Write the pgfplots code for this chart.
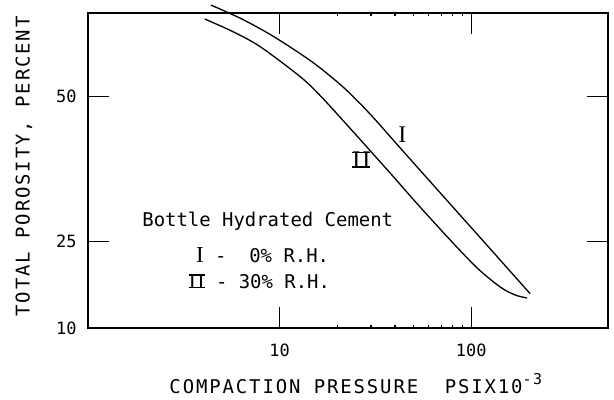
\documentclass[border=0pt]{standalone}
\usepackage{pgfplots}
\pgfplotsset{compat=1.18}
\usepackage{fontspec}
\setmainfont{DejaVu Sans Mono}
\newfontfamily\rom{Liberation Serif}
\newfontfamily\lbl{DejaVu Sans Mono}[LetterSpace=10]
\newcommand\RII{{\rom\setbox0\hbox{I\kern0.08em I}\rlap{\rule{\wd0}{1.3bp}}\rlap{\rule[\dimexpr\ht0-1.3bp\relax]{\wd0}{1.3bp}}\box0}}
\begin{document}
\begin{tikzpicture}
\useasboundingbox (0,0) rectangle (614bp,400bp);
\begin{axis}[
  at={(88bp,72bp)}, anchor=south west,
  scale only axis, width=520bp, height=315bp,
  xmode=log, xmin=1, xmax=517, ymin=10, ymax=64.5,
  xtick={10,100}, xticklabels={10,100},
  ytick={10,25,50}, yticklabels={10,25,50},
  tick align=inside, major tick length=21bp,
  axis line style={line width=2.5bp},
  tick style={draw=black, line width=1.3bp},
  ticklabel style={font=\fontsize{17}{17}\selectfont},
  xticklabel style={yshift=-12bp},
  yticklabel style={xshift=-8bp},
  xlabel={COMPACTION PRESSURE\ \ PSIX10\raisebox{9bp}{\fontsize{15}{15}\selectfont -3}},
  xlabel style={at={(axis description cs:0.515,-0.175)}, anchor=center, font=\lbl\fontsize{19}{19}\selectfont},
  ylabel={TOTAL POROSITY, PERCENT},
  ylabel style={at={(axis description cs:-0.123,0.513)}, anchor=center, font=\lbl\fontsize{19}{19}\selectfont},
  clip=false,
]
\addplot[black, line width=1.3bp, smooth] coordinates {
(4.372,65.88) (6.264,63.56) (8.977,60.74) (12.86,57.42) (16.35,54.94) (22.07,51.31)
(29.79,46.94) (42.66,41.12) (61.1,35.31) (87.6,29.50) (133.4,22.72) (202.8,15.93)
};
\addplot[black, line width=1.3bp, smooth] coordinates {
(4.068,63.46) (5.759,61.21) (7.962,58.62) (12.86,53.43) (16.35,50.14) (21.54,45.81)
(29.79,40.62) (40.2,35.78) (52.9,31.28) (77.7,25.22) (107.4,20.38) (141.6,17.09) (169.5,15.71) (195.8,15.19)
};
% inward tick marks on all four sides, drawn as short plotted segments
\addplot[black, line width=1.3bp, forget plot] coordinates {(10,10) (10,13.6)};
\addplot[black, line width=1.3bp, forget plot] coordinates {(100,10) (100,13.6)};
\addplot[black, line width=1.3bp, forget plot] coordinates {(10,64.5) (10,60.9)};
\addplot[black, line width=1.3bp, forget plot] coordinates {(100,64.5) (100,60.9)};
\addplot[black, line width=1.3bp, forget plot] coordinates {(1,25) (1.29,25)};
\addplot[black, line width=1.3bp, forget plot] coordinates {(1,50) (1.29,50)};
\addplot[black, line width=1.3bp, forget plot] coordinates {(517,25) (401,25)};
\addplot[black, line width=1.3bp, forget plot] coordinates {(517,50) (401,50)};
\node[font=\rom\fontsize{24}{24}\selectfont] at (axis cs:43.7,43.4) {I};
\node[font=\fontsize{24}{24}\selectfont] at (axis cs:26.7,39.1) {\RII};
\node[anchor=base west, font=\fontsize{19}{19}\selectfont] at (axis cs:1.843,27.5) {Bottle Hydrated Cement};
\node[anchor=base east, font=\fontsize{19}{19}\selectfont] at (axis cs:18.9,21.25) {{\rom\fontsize{23}{23}\selectfont I} -\ \ 0\% R.H.};
\node[anchor=base east, font=\fontsize{19}{19}\selectfont] at (axis cs:19.1,16.9) {{\fontsize{21}{21}\selectfont\RII} - 30\% R.H.};
\end{axis}
\end{tikzpicture}
\end{document}
